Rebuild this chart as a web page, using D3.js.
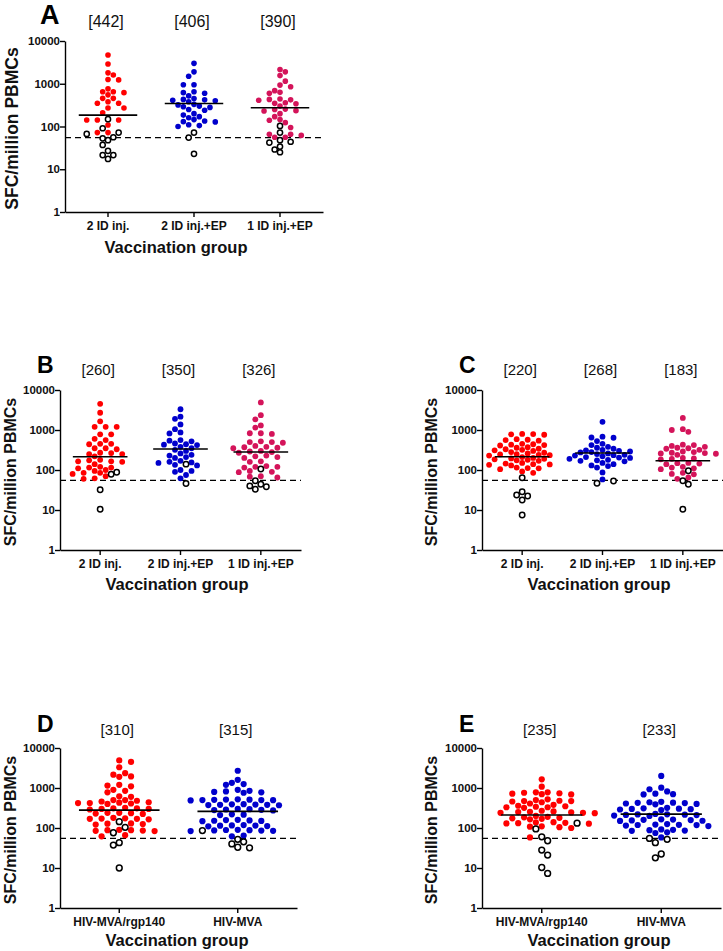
<!DOCTYPE html>
<html><head><meta charset="utf-8">
<script src="https://cdn.jsdelivr.net/npm/d3@7"></script>
<style>
body{margin:0;background:#fff;}
svg text{font-family:"Liberation Sans", Arial, Helvetica, sans-serif;}
</style></head><body>
<svg id="chart" width="723" height="951"></svg>
<script>
// ---------------- data ----------------
const groupsABC = ["2 ID inj.", "2 ID inj.+EP", "1 ID inj.+EP"];
const groupsDE = ["HIV-MVA/rgp140", "HIV-MVA"];
const yTickValues = [1, 10, 100, 1000, 10000];
const cutoffValue = 55;

// Panel A
const A_filled_1 = [4700, 2900, 1800, 1600, 1260, 1230, 760, 650, 650, 620, 550, 455, 455, 380, 350, 350, 270, 270, 210, 142, 142, 142, 108, 72, 72];
const A_open_1 = [148, 91, 72, 67, 56, 53, 48, 37, 27, 21.5, 21.5, 17.4];
const A_filled_2 = [3000, 1900, 1500, 950, 950, 650, 620, 600, 520, 450, 430, 420, 410, 400, 380, 330, 320, 300, 290, 280, 250, 240, 200, 185, 170, 160, 145, 135, 130, 128, 110, 105, 100];
const A_open_2 = [72, 55, 23];
const A_filled_3 = [2150, 1900, 1550, 1150, 930, 850, 690, 630, 600, 440, 430, 420, 410, 360, 350, 340, 300, 255, 250, 235, 230, 200, 170, 145, 140, 123, 95, 66, 66, 62, 56, 56];
const A_open_3 = [103, 72, 48, 44, 42, 34, 29, 25];
const A_lines = [185, 345, 275];
const A_brackets = ["[442]", "[406]", "[390]"];

// Panel B
const B_filled_1 = [4500, 2700, 1650, 1200, 1200, 1200, 780, 780, 600, 560, 450, 450, 440, 350, 350, 330, 270, 265, 250, 250, 220, 180, 175, 165, 165, 160, 140, 120, 115, 115, 110, 100, 95, 85, 85, 80, 70, 62, 60];
const B_open_1 = [88, 78, 32, 10.4];
const B_filled_2 = [3300, 2150, 1900, 1380, 1050, 870, 820, 560, 540, 520, 460, 440, 430, 420, 380, 350, 320, 300, 260, 240, 230, 210, 200, 170, 160, 155, 150, 135, 130, 100, 95, 90, 75, 62];
const B_open_2 = [140, 46];
const B_filled_3 = [4900, 2350, 1850, 1300, 1150, 830, 830, 800, 520, 500, 500, 480, 400, 380, 370, 360, 350, 300, 290, 280, 270, 230, 220, 210, 200, 165, 160, 125, 120, 120, 115, 95, 90, 88, 70, 68, 65];
const B_open_3 = [106, 54, 44, 40, 38, 33];
const B_lines = [214, 335, 282];
const B_brackets = ["[260]", "[350]", "[326]"];

// Panel C
const C_filled_1 = [800, 790, 780, 760, 590, 570, 560, 540, 450, 440, 430, 420, 410, 370, 360, 340, 330, 320, 310, 300, 280, 270, 260, 250, 245, 240, 235, 230, 210, 200, 195, 190, 185, 180, 175, 170, 150, 145, 140, 138, 135, 130, 115, 112, 110, 105, 92, 85];
const C_open_1 = [64, 28.7, 23.7, 22.4, 17.8, 7.5];
const C_filled_2 = [1600, 680, 650, 640, 530, 450, 420, 380, 360, 340, 320, 310, 300, 290, 280, 275, 260, 250, 240, 235, 230, 220, 210, 205, 200, 190, 180, 175, 170, 165, 150, 140, 130, 125, 115, 87, 58];
const C_open_2 = [53, 46.5];
const C_filled_3 = [2000, 1050, 1000, 900, 430, 420, 400, 380, 360, 350, 340, 320, 290, 280, 270, 265, 260, 255, 240, 200, 195, 190, 185, 150, 148, 145, 140, 120, 115, 110, 105, 85, 80, 78, 65, 60];
const C_open_3 = [96, 54, 44, 10.4];
const C_lines = [214, 265, 170];
const C_brackets = ["[220]", "[268]", "[183]"];

// Panel D
const D_filled_1 = [4900, 4500, 3300, 2350, 2150, 1950, 1900, 1200, 1150, 1100, 900, 850, 780, 620, 600, 500, 500, 480, 460, 440, 430, 420, 420, 410, 400, 320, 310, 310, 300, 300, 290, 240, 240, 235, 230, 225, 180, 175, 172, 170, 170, 165, 130, 128, 125, 122, 90, 88, 88, 86, 85, 84, 66, 62];
const D_open_1 = [144, 104, 76, 43, 37.5, 10];
const D_filled_2 = [2700, 1600, 1350, 1250, 1200, 900, 850, 820, 800, 780, 760, 520, 515, 510, 505, 500, 500, 495, 490, 395, 390, 385, 380, 380, 375, 370, 300, 295, 290, 285, 280, 275, 220, 215, 210, 160, 158, 155, 152, 150, 148, 118, 116, 115, 114, 112, 110, 90, 89, 88, 87, 86, 85, 84, 65, 62];
const D_open_2 = [86, 52, 45, 40, 33, 32];
const D_lines = [280, 260];
const D_brackets = ["[310]", "[315]"];

// Panel E
const E_filled_1 = [1650, 1080, 780, 780, 760, 740, 720, 700, 690, 520, 500, 480, 470, 470, 460, 440, 410, 380, 360, 350, 340, 330, 330, 320, 270, 260, 255, 250, 245, 240, 240, 235, 200, 190, 185, 180, 175, 170, 165, 140, 138, 135, 132, 130, 128, 110, 108, 105, 100, 58];
const E_open_1 = [132, 95, 60, 48, 28, 21, 10.3, 7.3];
const E_filled_2 = [2000, 1020, 930, 820, 720, 700, 690, 450, 440, 430, 425, 420, 410, 400, 390, 320, 310, 305, 300, 295, 290, 280, 225, 220, 218, 215, 212, 210, 205, 200, 165, 162, 160, 158, 155, 152, 150, 125, 122, 120, 119, 118, 115, 112, 92, 90, 88, 86, 85, 78, 75, 58];
const E_open_2 = [55, 52, 43, 22.4, 18];
const E_lines = [212, 222];
const E_brackets = ["[235]", "[233]"];

// ---------------- styles / layout ----------------
const colorsABC = ["#ff0000", "#0000cc", "#d4145a"];
const colorsDE = ["#ff0000", "#0000cc"];
const yTitle = "SFC/million PBMCs";
const xTitle = "Vaccination group";

const panels = [
  {letter:"A", groups:groupsABC, colors:colorsABC, filled:[A_filled_1,A_filled_2,A_filled_3], open:[A_open_1,A_open_2,A_open_3], lines:A_lines, brackets:A_brackets,
   axisX:65, right:323, yTop:41, yBot:212, titleX:18, titleSize:17.5, letterX:40, letterY:24, letterSize:27, bracketY:27, bracketSize:16, xlabX:176, xlabY:253, r:2.8},
  {letter:"B", groups:groupsABC, colors:colorsABC, filled:[B_filled_1,B_filled_2,B_filled_3], open:[B_open_1,B_open_2,B_open_3], lines:B_lines, brackets:B_brackets,
   axisX:60, right:301, yTop:390, yBot:550, titleX:16, titleSize:16, letterX:37, letterY:373, letterSize:23, bracketY:375, bracketSize:15, xlabX:177, xlabY:590, r:2.9},
  {letter:"C", groups:groupsABC, colors:colorsABC, filled:[C_filled_1,C_filled_2,C_filled_3], open:[C_open_1,C_open_2,C_open_3], lines:C_lines, brackets:C_brackets,
   axisX:482, right:723, yTop:390, yBot:550, titleX:437, titleSize:16, letterX:459, letterY:373, letterSize:23, bracketY:375, bracketSize:15, xlabX:599, xlabY:590, r:2.9},
  {letter:"D", groups:groupsDE, colors:colorsDE, filled:[D_filled_1,D_filled_2], open:[D_open_1,D_open_2], lines:D_lines, brackets:D_brackets,
   axisX:60, right:297, yTop:748, yBot:908, titleX:16, titleSize:16, letterX:37, letterY:732, letterSize:23, bracketY:735, bracketSize:15, xlabX:177, xlabY:946, r:3.1},
  {letter:"E", groups:groupsDE, colors:colorsDE, filled:[E_filled_1,E_filled_2], open:[E_open_1,E_open_2], lines:E_lines, brackets:E_brackets,
   axisX:482, right:721, yTop:748, yBot:908, titleX:437, titleSize:16, letterX:459, letterY:732, letterSize:23, bracketY:735, bracketSize:15, xlabX:599, xlabY:946, r:3.1}
];

const svg = d3.select("#chart");
svg.append("rect").attr("width",723).attr("height",951).attr("fill","#fff");

// column-based swarm: points snap to narrow columns, nearest free column to the centre
function columnSwarm(items, y, r, colW) {
  const pts = items.map(d => Object.assign({}, d, {py: y(d.v)})).sort((a, b) => a.py - b.py);
  const cols = new Map();
  const near = (c, py, lim) => (cols.get(c) || []).some(q => Math.abs(q - py) < lim);
  pts.forEach((p, i) => {
    const sgn = i % 2 ? 1 : -1;
    let col = 0;
    for (let k = 0; k < 80; k++) {
      const c = k === 0 ? 0 : (k % 2 ? sgn : -sgn) * Math.ceil(k / 2);
      const bad = near(c, p.py, 2.0 * r) || near(c - 1, p.py, 0.6 * r) || near(c + 1, p.py, 0.6 * r);
      if (!bad) { col = c; break; }
    }
    if (!cols.has(col)) cols.set(col, []);
    cols.get(col).push(p.py);
    p.dx = col * colW;
  });
  return pts;
}

panels.forEach(P => {
  const g = svg.append("g");
  const y = d3.scaleLog().domain([1, 10000]).range([P.yBot, P.yTop]);
  const x = d3.scaleBand().domain(P.groups).range([P.axisX, P.right]).padding(0);
  const bw = x.bandwidth();
  const cx = gname => x(gname) + bw / 2;

  // cutoff dashed line
  g.append("line")
    .attr("x1", P.axisX).attr("x2", P.right)
    .attr("y1", y(cutoffValue)).attr("y2", y(cutoffValue))
    .attr("stroke", "#000").attr("stroke-width", 1.4).attr("stroke-dasharray", "6,4");

  // points
  P.groups.forEach((gn, gi) => {
    const items = P.filled[gi].map(v => ({v, open:false})).concat(P.open[gi].map(v => ({v, open:true})));
    const pts = columnSwarm(items, y, P.r, 1.9 * P.r);
    g.selectAll(null).data(pts.filter(d => !d.open)).enter().append("circle")
      .attr("cx", d => cx(gn) + d.dx).attr("cy", d => y(d.v)).attr("r", P.r)
      .attr("fill", P.colors[gi]);
    g.selectAll(null).data(pts.filter(d => d.open)).enter().append("circle")
      .attr("cx", d => cx(gn) + d.dx).attr("cy", d => y(d.v)).attr("r", P.r - 0.2)
      .attr("fill", "#fff").attr("stroke", "#000").attr("stroke-width", 1.5);
    // central line
    g.append("line")
      .attr("x1", cx(gn) - bw * 0.34).attr("x2", cx(gn) + bw * 0.34)
      .attr("y1", y(P.lines[gi])).attr("y2", y(P.lines[gi]))
      .attr("stroke", "#000").attr("stroke-width", 1.6);
    // bracket label
    g.append("text").attr("x", cx(gn) - 2).attr("y", P.bracketY)
      .attr("text-anchor", "middle").attr("font-size", P.bracketSize).attr("fill", "#111")
      .text(P.brackets[gi]);
  });

  // y axis
  const ya = g.append("g").attr("transform", `translate(${P.axisX},0)`)
    .call(d3.axisLeft(y).tickValues(yTickValues).tickFormat(d3.format("d")).tickSize(5).tickSizeOuter(0));
  ya.select(".domain").attr("stroke-width", 1.4);
  ya.selectAll(".tick line").attr("stroke-width", 1.4);
  ya.selectAll(".tick text").attr("font-size", 11.5).attr("font-weight", "bold").attr("x", -5)
    .attr("font-family", '"Liberation Sans", Arial, sans-serif').attr("fill", "#111");

  // x axis
  const xa = g.append("g").attr("transform", `translate(0,${P.yBot})`)
    .call(d3.axisBottom(x).tickSize(5).tickSizeOuter(0));
  xa.select(".domain").attr("stroke-width", 1.4);
  xa.selectAll(".tick line").attr("stroke-width", 1.4);
  xa.selectAll(".tick text").attr("font-size", 12).attr("font-weight", "bold").attr("y", 9)
    .attr("font-family", '"Liberation Sans", Arial, sans-serif').attr("fill", "#111");

  // y title
  g.append("text")
    .attr("transform", `translate(${P.titleX},${(P.yTop + P.yBot) / 2 + 2}) rotate(-90)`)
    .attr("text-anchor", "middle").attr("font-size", P.titleSize).attr("font-weight", "bold").attr("fill", "#111")
    .text(yTitle);
  // x title
  g.append("text").attr("x", P.xlabX).attr("y", P.xlabY)
    .attr("text-anchor", "middle").attr("font-size", 16.5).attr("font-weight", "bold").attr("fill", "#111")
    .text(xTitle);
  // panel letter
  g.append("text").attr("x", P.letterX).attr("y", P.letterY)
    .attr("font-size", P.letterSize).attr("font-weight", "bold").attr("fill", "#000")
    .text(P.letter);
});
</script>
</body></html>
